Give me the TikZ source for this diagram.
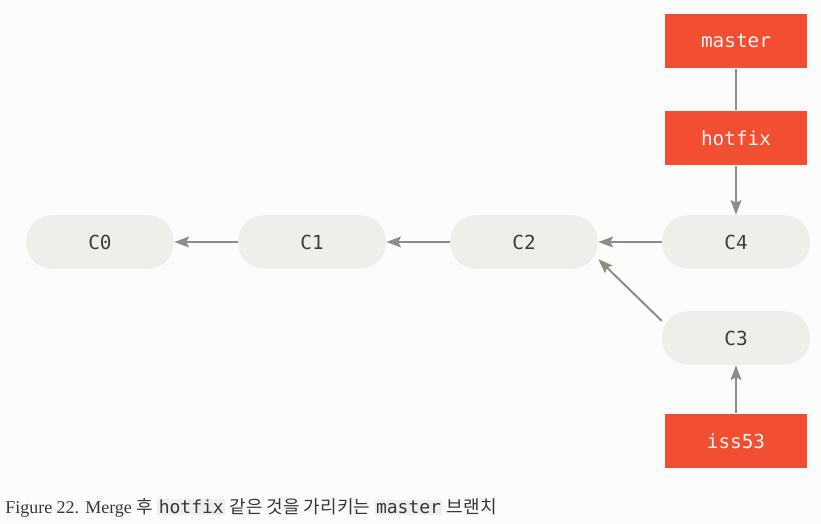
\documentclass[tikz,border=0pt]{standalone}
\usepackage{fontspec}
\setmainfont{Liberation Serif}
\setmonofont{DejaVu Sans Mono}
\newfontfamily\krfont{Noto Sans CJK KR}
\usepackage{tikz}
\definecolor{gitred}{RGB}{241, 78, 50}
\definecolor{commitgray}{RGB}{239, 238, 233}
\definecolor{arrowgray}{RGB}{143, 140, 134}
\definecolor{commitink}{RGB}{62, 60, 56}
\definecolor{pagebg}{RGB}{252, 252, 250}
\definecolor{codebg}{RGB}{238, 238, 236}
\definecolor{captionink}{RGB}{55, 55, 55}
\usetikzlibrary{shapes,arrows.meta}
\tikzstyle{commit} = [rectangle, fill=commitgray, text=commitink,
    minimum width=111pt, minimum height=40.5pt, rounded corners=20pt,
    font=\fontsize{14.5pt}{17pt}\ttfamily]
\tikzstyle{branch} = [rectangle, fill=gitred, text=white!94!gitred,
    minimum width=107pt, minimum height=41pt,
    font=\fontsize{14.5pt}{17pt}\ttfamily]
\tikzstyle{line} = [draw=arrowgray, line width=1.5pt,
    -{Stealth[length=11pt, width=8pt, inset=2pt]}]
\tikzstyle{plain} = [draw=arrowgray, line width=1.5pt]
\newcommand{\codeword}[1]{{\setlength{\fboxsep}{1pt}\colorbox{codebg}{\ttfamily #1}}}

\begin{document}
\begin{tikzpicture}[node distance = 159pt, auto]
  \fill [pagebg] (-75pt, 181.5pt) rectangle (540.75pt, -211.5pt);
  \node [commit] (c0) {C0};
  \node [commit, right of=c0] (c1) {C1};
  \path [line] (c1) -- (c0);
  \node [commit, right of=c1] (c2) {C2};
  \path [line] (c2) -- (c1);
  \node [commit, right of=c2] (c4) {C4};
  \path [line] (c4) -- (c2);
  \node [commit, below of=c4, node distance=72pt] (c3) {C3};
  \path [line] (c3.167) -- (c2.347);
  \node [branch, above of=c4, node distance=78pt] (hotfix) {hotfix};
  \path [line] (hotfix) -- (c4);
  \node [branch, above of=hotfix, node distance=72.75pt] (master) {master};
  \path [plain] (master) -- (hotfix);
  \node [branch, below of=c3, node distance=77.25pt] (iss53) {iss53};
  \path [line] (iss53) -- (c3);
  \node [anchor=west, inner sep=0pt, text=captionink,
      font=\fontsize{13.5pt}{16pt}\selectfont] (caption) at (-71.25pt, -199.5pt)
    {Figure 22. Merge {\krfont 후} \codeword{hotfix} {\krfont 같은 것을 가리키는} \codeword{master} {\krfont 브랜치}};
\end{tikzpicture}
\end{document}
